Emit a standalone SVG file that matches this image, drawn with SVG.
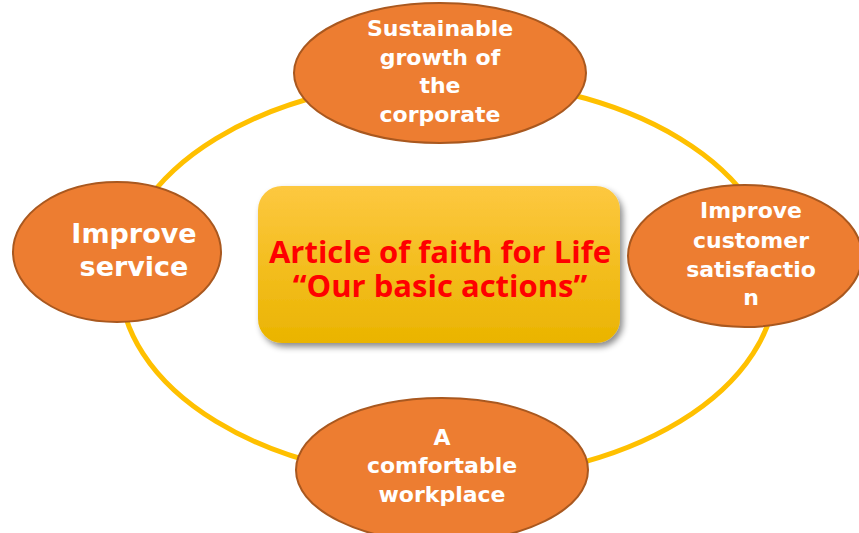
<svg xmlns="http://www.w3.org/2000/svg" width="859" height="533" viewBox="0 0 859 533">
<defs>
<style>
.node{fill:#ED7D31;stroke:#A9581F;stroke-width:2}
.wt{fill:#FFFFFF;font-family:"DejaVu Sans","Open Sans",sans-serif;font-weight:bold;text-anchor:middle}
.rt{fill:#FF0000;font-family:"Open Sans","DejaVu Sans",sans-serif;font-weight:bold;text-anchor:middle;font-size:31px}
</style>
<linearGradient id="yg" x1="0" y1="0" x2="0" y2="1">
<stop offset="0" stop-color="#FDC840"/>
<stop offset="1" stop-color="#EAB400"/>
</linearGradient>
<filter id="sh" x="-10%" y="-10%" width="125%" height="130%">
<feDropShadow dx="3" dy="4" stdDeviation="3" flood-color="#000" flood-opacity="0.45"/>
</filter>
</defs>
<rect width="859" height="533" fill="#FFFFFF"/>
<g id="connectors">
<ellipse cx="448" cy="280" rx="328" ry="200" fill="none" stroke="#FFC000" stroke-width="5"/>
</g>
<g id="center">
<rect x="258" y="186" width="362" height="157" rx="24" fill="url(#yg)" filter="url(#sh)"/>
<text class="rt" x="440" y="263">Article of faith for Life</text>
<text class="rt" x="440" y="297">“Our basic actions”</text>
</g>
<g id="top">
<ellipse class="node" cx="440" cy="73" rx="146" ry="70"/>
<text class="wt" font-size="22" x="440" y="36">Sustainable</text>
<text class="wt" font-size="22" x="440" y="65">growth of</text>
<text class="wt" font-size="22" x="440" y="93">the</text>
<text class="wt" font-size="22" x="440" y="122">corporate</text>
</g>
<g id="right">
<ellipse class="node" cx="745" cy="256" rx="117" ry="71"/>
<text class="wt" font-size="22" x="751" y="218">Improve</text>
<text class="wt" font-size="22" x="751" y="248">customer</text>
<text class="wt" font-size="22" x="751" y="277">satisfactio</text>
<text class="wt" font-size="22" x="751" y="305">n</text>
</g>
<g id="left">
<ellipse class="node" cx="117" cy="252" rx="104" ry="70"/>
<text class="wt" font-size="27" x="134" y="243">Improve</text>
<text class="wt" font-size="27" x="134" y="276">service</text>
</g>
<g id="bottom">
<ellipse class="node" cx="442" cy="470" rx="146" ry="72"/>
<text class="wt" font-size="22" x="442" y="445">A</text>
<text class="wt" font-size="22" x="442" y="473">comfortable</text>
<text class="wt" font-size="22" x="442" y="502">workplace</text>
</g>
</svg>
